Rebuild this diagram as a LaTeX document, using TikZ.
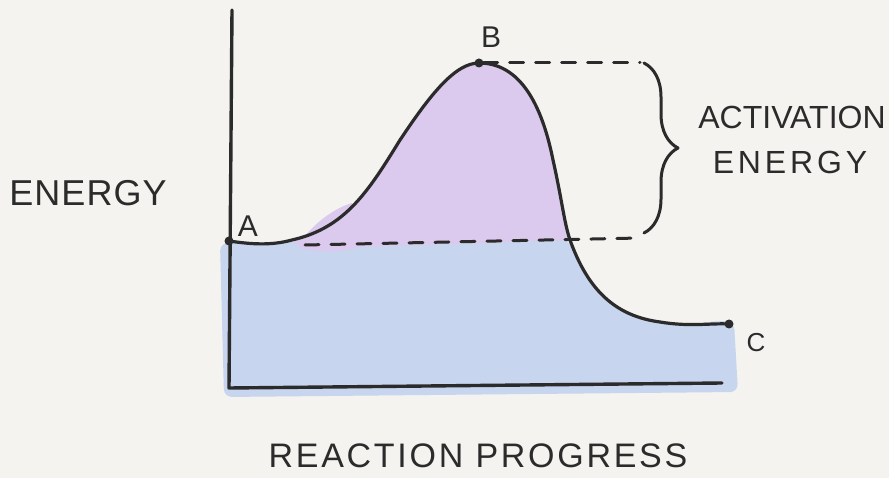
\documentclass[tikz,border=0pt]{standalone}
\usepackage{fontspec}
\setmainfont{Liberation Sans}
\usetikzlibrary{decorations.pathreplacing}
\definecolor{bg}{HTML}{F4F3F0}
\definecolor{fillblue}{HTML}{C7D5EE}
\definecolor{fillpurple}{HTML}{DCC9EE}
\definecolor{ink}{HTML}{2B2B2B}
\begin{document}
\begin{tikzpicture}[x=1pt,y=-1pt,line cap=round,line join=round,
  curve/.style={draw=ink,line width=3.2pt},
  axis/.style={draw=ink,line width=3.4pt},
  dashline/.style={draw=ink,line width=3pt,dash pattern=on 14pt off 12pt},
  dot/.style={circle,fill=ink,inner sep=0pt,minimum size=9pt},
  lbl/.style={text=ink,inner sep=0pt,font=\fontsize{36}{40}\selectfont\addfontfeature{LetterSpace=3}},
  lblx/.style={text=ink,inner sep=0pt,font=\fontsize{34}{38}\selectfont\addfontfeature{LetterSpace=8}},
  lblact/.style={text=ink,inner sep=0pt,font=\fontsize{32}{36}\selectfont},
  lblen/.style={text=ink,inner sep=0pt,font=\fontsize{32}{36}\selectfont\addfontfeature{LetterSpace=12}},
  ptlbl/.style={text=ink,inner sep=0pt,font=\fontsize{30}{34}\selectfont},
  bracestyle/.style={draw=ink,line width=3pt,decorate,decoration={brace,amplitude=34pt}}
]
\fill[bg] (0,0) rectangle (889,478);
\useasboundingbox (0,0) rectangle (889,478);
% fills
\fill[fillblue,rounded corners=8pt] (220,243) -- (568,239)
  .. controls (588,290) and (615,316) .. (660,322)
  .. controls (690,327) and (710,320) .. (734,322)
  -- (738,392) -- (224,397) -- cycle;
\fill[fillpurple] (292,240) .. controls (345,228) and (368,192) .. (400,140)
  .. controls (430,95) and (455,63) .. (480,63)
  .. controls (515,63) and (540,95) .. (553,160)
  .. controls (562,200) and (564,222) .. (570,240)
  -- (360,247) .. controls (340,253) and (310,252) .. (300,247) -- cycle;
\fill[fillpurple] (300,242) .. controls (315,222) and (335,208) .. (352,203) -- (356,222) -- cycle;
% axes
\coordinate (ytop) at (232,10);
\coordinate (O) at (229,388);
\coordinate (xend) at (722,383);
\draw[axis] (ytop) -- (O) -- (xend);
% points
\node[dot] (A) at (229,241) {};
\node[dot] (B) at (479,63) {};
\node[dot] (C) at (729,324) {};
\coordinate (P1) at (292,240);
\coordinate (P2) at (400,140);
\coordinate (P4) at (553,160);
\coordinate (P5) at (570,240);
\coordinate (P6) at (660,322);
\draw[curve] (A.center) .. controls (250,244) and (270,246) .. (P1)
  .. controls (345,228) and (368,192) .. (P2)
  .. controls (430,95) and (455,63) .. (B.center)
  .. controls (515,63) and (540,95) .. (P4)
  .. controls (562,200) and (564,222) .. (P5)
  .. controls (588,290) and (615,316) .. (P6)
  .. controls (690,327) and (710,323) .. (C.center);
% dashed lines
\coordinate (dtr) at (640,63);
\coordinate (dbl) at (305,245);
\coordinate (dbr) at (640,238);
\draw[dashline] (B) -- (dtr);
\draw[dashline] (dbl) -- (dbr);
% brace
\coordinate (bt) at (644,63);
\coordinate (bb) at (644,233);
\draw[bracestyle] (bt) -- (bb);
% labels
\node[ptlbl] (lA) at (248,226) {A};
\node[ptlbl] (lB) at (491,37) {B};
\node[ptlbl,font=\fontsize{26}{30}\selectfont] (lC) at (756,343) {C};
\node[lbl] (ylab) at (88,193) {ENERGY};
\node[lblx] (xlab) at (478,456) {REACTION PROGRESS};
\node[lblact] (act1) at (792,117) {ACTIVATION};
\node[lblen] (act2) at (790,162) {ENERGY};
\end{tikzpicture}
\end{document}
